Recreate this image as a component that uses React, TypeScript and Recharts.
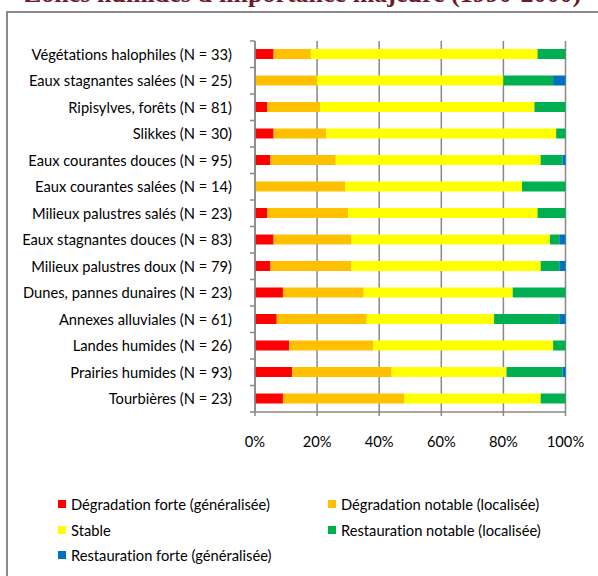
import React from "react";
import { Bar, BarChart, CartesianGrid, XAxis, YAxis } from "recharts";

const categories = [
  "Végétations halophiles (N = 33)",
  "Eaux stagnantes salées (N = 25)",
  "Ripisylves, forêts (N = 81)",
  "Slikkes (N = 30)",
  "Eaux courantes douces (N = 95)",
  "Eaux courantes salées (N = 14)",
  "Milieux palustres salés (N = 23)",
  "Eaux stagnantes douces (N = 83)",
  "Milieux palustres doux (N = 79)",
  "Dunes, pannes dunaires (N = 23)",
  "Annexes alluviales (N = 61)",
  "Landes humides (N = 26)",
  "Prairies humides (N = 93)",
  "Tourbières (N = 23)",
];

const degradationForte = [6, 0, 4, 6, 5, 0, 4, 6, 5, 9, 7, 11, 12, 9];
const degradationNotable = [12, 20, 17, 17, 21, 29, 26, 25, 26, 26, 29, 27, 32, 39];
const stable = [73, 60, 69, 74, 66, 57, 61, 64, 61, 48, 41, 58, 37, 44];
const restaurationNotable = [9, 16, 10, 3, 7, 14, 9, 3, 6, 17, 21, 4, 18, 8];
const restaurationForte = [0, 4, 0, 0, 1, 0, 0, 2, 2, 0, 2, 0, 1, 0];

const xTicks = [0, 20, 40, 60, 80, 100];

const series = [
  { key: "degForte", name: "Dégradation forte (généralisée)", color: "#FF0000", values: degradationForte },
  { key: "degNotable", name: "Dégradation notable (localisée)", color: "#FFC000", values: degradationNotable },
  { key: "stable", name: "Stable", color: "#FFFF00", values: stable },
  { key: "restNotable", name: "Restauration notable (localisée)", color: "#00B050", values: restaurationNotable },
  { key: "restForte", name: "Restauration forte (généralisée)", color: "#0070C0", values: restaurationForte },
];

const data = categories.map((name, i) => {
  const row: Record<string, string | number> = { name };
  series.forEach((s) => (row[s.key] = s.values[i]));
  return row;
});

const FONT = "Lato, 'Open Sans', sans-serif";
const FS = 14.7;
const GRID = "#888888";
const PLOT_LEFT = 255;
const PLOT_TOP = 41;
const PLOT_BOTTOM = 412;
const BAND = (PLOT_BOTTOM - PLOT_TOP) / categories.length;

// excel puts the category ticks between the bars, so draw them ourselves
function CategoryTick(props: any) {
  const { x, y, payload, index } = props;
  const top = y - BAND / 2;
  return (
    <g>
      <line x1={PLOT_LEFT - 5} x2={PLOT_LEFT} y1={top} y2={top} stroke={GRID} strokeWidth={1.5} />
      {index === categories.length - 1 && (
        <line x1={PLOT_LEFT - 5} x2={PLOT_LEFT} y1={top + BAND} y2={top + BAND} stroke={GRID} strokeWidth={1.5} />
      )}
      <text
        x={x}
        y={y}
        dy="0.36em"
        textAnchor="end"
        fill="#000"
        fontSize={FS}
        fontFamily={FONT}
        style={{ fontVariantLigatures: "none" }}
      >
        {payload.value}
      </text>
    </g>
  );
}

export default function App() {
  return (
    <div
      style={{
        position: "absolute",
        left: 0,
        top: 0,
        width: 598,
        height: 576,
        overflow: "hidden",
        background: "#fff",
        fontFamily: FONT,
        fontVariantLigatures: "none",
      }}
    >
      <div
        style={{
          position: "absolute",
          left: 24,
          top: -19,
          whiteSpace: "nowrap",
          fontFamily: "'Liberation Serif', serif",
          fontWeight: "bold",
          fontSize: 26,
          lineHeight: "26px",
          color: "#6E1A2B",
        }}
      >
        Zones humides d'importance majeure (1990-2000)
      </div>
      <div
        style={{
          position: "absolute",
          left: 6,
          top: 11,
          width: 620,
          height: 620,
          border: "2px solid #8A8A8A",
          boxSizing: "border-box",
        }}
      />
      <div style={{ position: "absolute", left: 0, top: 0 }}>
        <BarChart
          width={598}
          height={576}
          data={data}
          layout="vertical"
          barSize={10}
          margin={{ top: PLOT_TOP, right: 32.5, left: 0, bottom: 576 - PLOT_BOTTOM - 40 }}
        >
          <CartesianGrid horizontal={false} stroke={GRID} strokeWidth={1.5} />
          <XAxis
            type="number"
            domain={[0, 100]}
            ticks={xTicks}
            tickFormatter={(v) => `${v}%`}
            height={40}
            stroke={GRID}
            strokeWidth={1.5}
            tickSize={4}
            tickMargin={21}
            tick={{ fill: "#000", fontSize: FS, fontFamily: FONT }}
            interval={0}
          />
          <YAxis
            type="category"
            dataKey="name"
            width={PLOT_LEFT}
            stroke={GRID}
            strokeWidth={1.5}
            tickLine={false}
            tickSize={5}
            tickMargin={18}
            tick={<CategoryTick />}
            interval={0}
          />
          {series.map((s) => (
            <Bar key={s.key} dataKey={s.key} name={s.name} stackId="a" fill={s.color} isAnimationActive={false} />
          ))}
        </BarChart>
      </div>
      <div style={{ position: "absolute", left: 58, top: 491, width: 540 }}>
        {[0, 2, 4].map((start) => (
          <div key={start} style={{ display: "flex", height: 25.8, alignItems: "center" }}>
            {series.slice(start, start + 2).map((s) => (
              <div key={s.key} style={{ display: "flex", alignItems: "center", width: 291, fontSize: FS }}>
                <span style={{ width: 8, height: 8, background: s.color, marginRight: 5, flex: "none" }} />
                <span>{s.name}</span>
              </div>
            ))}
          </div>
        ))}
      </div>
    </div>
  );
}
